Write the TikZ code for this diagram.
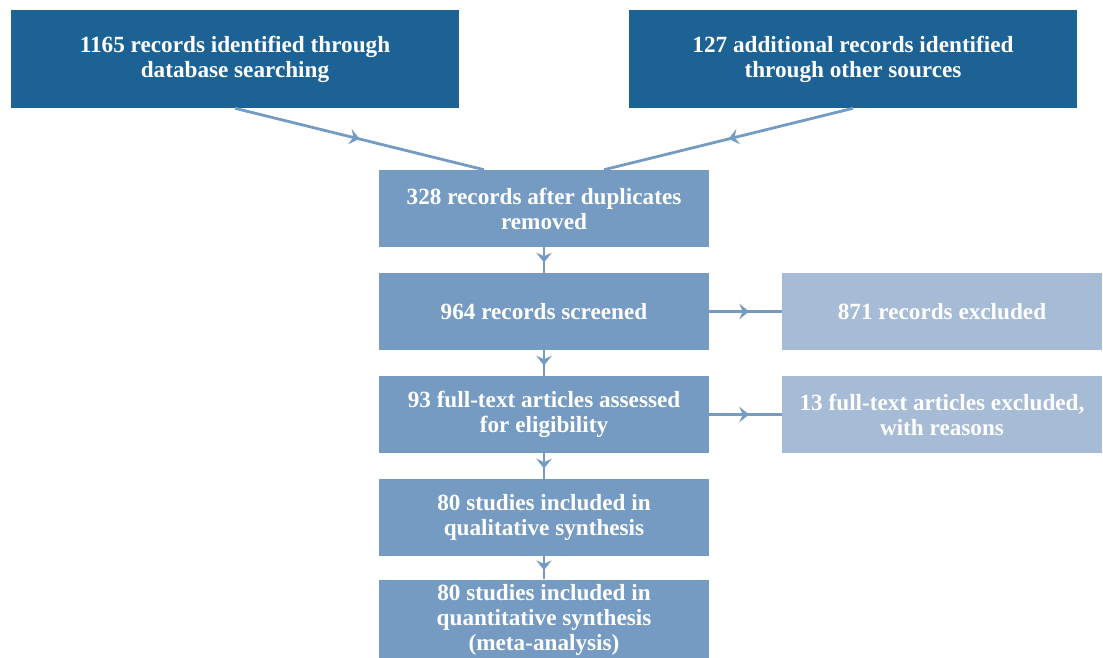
\documentclass[tikz,border=0pt]{standalone}
\usepackage{fontspec}
\setmainfont{Liberation Serif}
\usepackage{tikz}
\usetikzlibrary{arrows.meta,decorations.markings,positioning}
\usepackage{xcolor}
\definecolor{prdark}{RGB}{29,98,148}
\definecolor{prmid}{RGB}{118,155,194}
\definecolor{prlight}{RGB}{165,187,214}
\tikzset{arrow/.style={line width=2pt,color=prmid,postaction={decorate},
    decoration={markings,mark=at position #1 with {\arrow{Stealth[length=7pt,width=11pt,inset=2.5pt]}}}},
    arrow/.default=0.5}

\begin{document}
\begin{tikzpicture}[
    source/.style={rectangle, fill=prdark, text=white, minimum width=11.2cm, minimum height=2.45cm, align=center, font=\fontsize{16.5}{17.8}\selectfont\bfseries},
    stage/.style={rectangle, fill=prmid, text=white, minimum width=8.25cm, minimum height=1.925cm, align=center, font=\fontsize{16.5}{17.8}\selectfont\bfseries},
    excluded/.style={rectangle, fill=prlight, text=white, minimum width=8cm, minimum height=1.925cm, align=center, font=\fontsize{16.5}{17.8}\selectfont\bfseries}]

\useasboundingbox (0,0) rectangle (27.575,-16.425);

% Identification
\node[source] (database) at (5.875,-1.475) {1165 records identified through\\database searching};
\node[source] (other) at (21.325,-1.475) {127 additional records identified\\through other sources};

% Screening and inclusion
\node[stage] (duplicates) at (13.6,-5.2125) {328 records after duplicates\\removed};
\node[stage] (screened) at (13.6,-7.7875) {964 records screened};
\node[stage] (fulltext) at (13.6,-10.3625) {93 full-text articles assessed\\for eligibility};
\node[stage] (qualitative) at (13.6,-12.9375) {80 studies included in\\qualitative synthesis};
\node[stage, minimum height=1.9cm] (quantitative) at (13.6,-15.5) {80 studies included in\\quantitative synthesis\\(meta-analysis)};

% Exclusions
\node[excluded] (recexcl) at (23.55,-7.7875) {871 records excluded};
\node[excluded] (fullexcl) at (23.55,-10.3625) {13 full-text articles excluded,\\with reasons};

% Connections
\draw[arrow] (database.south) -- ([xshift=-1.5cm]duplicates.north);
\draw[arrow] (other.south) -- ([xshift=1.5cm]duplicates.north);
\draw[arrow=0.6] (duplicates) -- (screened);
\draw[arrow=0.6] (screened) -- (fulltext);
\draw[arrow=0.6] (fulltext) -- (qualitative);
\draw[arrow=0.6] (qualitative) -- (quantitative);
\draw[arrow=0.55] (screened) -- (recexcl);
\draw[arrow=0.55] (fulltext) -- (fullexcl);

\end{tikzpicture}
\end{document}
